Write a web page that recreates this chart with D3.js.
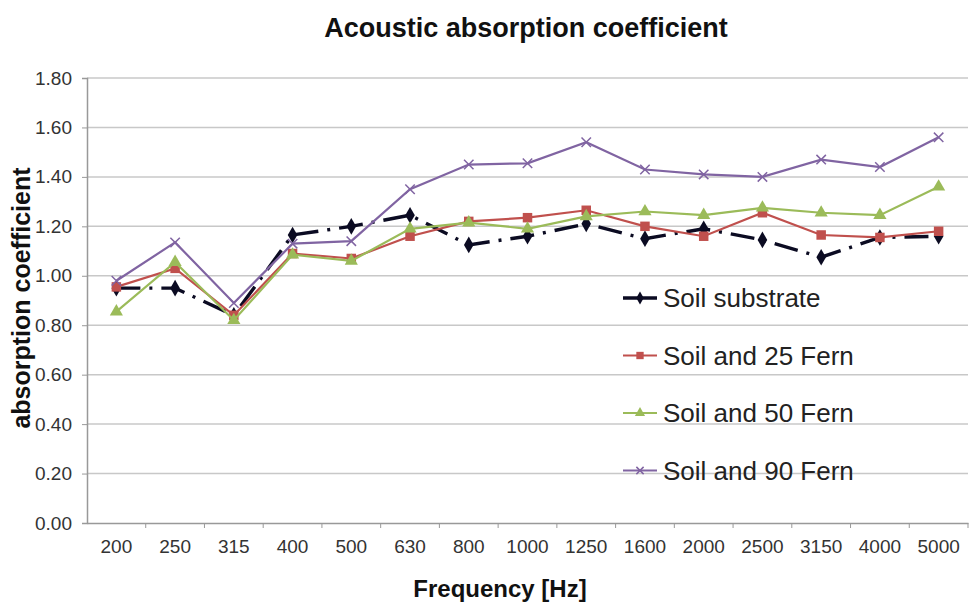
<!DOCTYPE html>
<html>
<head>
<meta charset="utf-8">
<script src="https://cdn.jsdelivr.net/npm/d3@7"></script>
<style>
  body { margin: 0; background: #fff; }
  text { font-family: "Liberation Sans", Arial, sans-serif; }
</style>
</head>
<body>
<svg width="971" height="604"></svg>
<script>
const frequencies = ['200', '250', '315', '400', '500', '630', '800', '1000', '1250', '1600', '2000', '2500', '3150', '4000', '5000'];

const soilSubstrate = [0.95, 0.95, 0.84, 1.165, 1.20, 1.245, 1.125, 1.16, 1.21, 1.15, 1.19, 1.145, 1.075, 1.155, 1.16];
const soil25Fern = [0.955, 1.03, 0.84, 1.09, 1.07, 1.16, 1.22, 1.235, 1.265, 1.20, 1.16, 1.255, 1.165, 1.155, 1.18];
const soil50Fern = [0.855, 1.055, 0.82, 1.085, 1.06, 1.19, 1.215, 1.19, 1.24, 1.26, 1.245, 1.275, 1.255, 1.245, 1.36];
const soil90Fern = [0.98, 1.135, 0.89, 1.13, 1.14, 1.35, 1.45, 1.455, 1.54, 1.43, 1.41, 1.40, 1.47, 1.44, 1.56];

const seriesNames = ['Soil substrate', 'Soil and 25 Fern', 'Soil and 50 Fern', 'Soil and 90 Fern'];
const yTicks = [0, 0.2, 0.4, 0.6, 0.8, 1.0, 1.2, 1.4, 1.6, 1.8];

const series = [
    {name: seriesNames[0], values: soilSubstrate, color: '#0b0b22', marker: d3.symbolDiamond, width: 3.4, dash: '24,9,3,9', msize: 80},
    {name: seriesNames[1], values: soil25Fern, color: '#c0504d', marker: d3.symbolSquare, width: 2.2, dash: null, msize: 90},
    {name: seriesNames[2], values: soil50Fern, color: '#9bbb59', marker: d3.symbolTriangle, width: 2.2, dash: null, msize: 75},
    {name: seriesNames[3], values: soil90Fern, color: '#8064a2', marker: d3.symbolX, width: 2.2, dash: null, msize: 60}
];

const svg = d3.select('svg');
const margin = {left: 87, right: 3, top: 78, bottom: 81};
const width = +svg.attr('width');
const height = +svg.attr('height');

const x = d3.scaleBand()
    .domain(frequencies)
    .range([margin.left, width - margin.right]);

const y = d3.scaleLinear()
    .domain([0, 1.8])
    .range([height - margin.bottom, margin.top]);

// gridlines
svg.append('g')
    .selectAll('line')
    .data(yTicks.slice(1))
    .enter().append('line')
    .attr('x1', margin.left)
    .attr('x2', width - margin.right)
    .attr('y1', d => y(d))
    .attr('y2', d => y(d))
    .attr('stroke', '#c8c8c8')
    .attr('stroke-width', 1.5);

// y axis
const yAxis = svg.append('g')
    .attr('transform', `translate(${margin.left},0)`)
    .call(d3.axisLeft(y).tickValues(yTicks).tickFormat(d3.format('.2f')).tickSize(5).tickPadding(10));
yAxis.select('.domain').attr('stroke', '#999').attr('stroke-width', 1.5);
yAxis.selectAll('.tick line').attr('stroke', '#999');
yAxis.selectAll('text').attr('font-size', 19).attr('fill', '#333');

// x axis
const xAxis = svg.append('g')
    .attr('transform', `translate(0,${height - margin.bottom})`)
    .call(d3.axisBottom(x).tickSize(0).tickPadding(17));
xAxis.select('.domain').attr('stroke', '#999').attr('stroke-width', 1.5);
xAxis.selectAll('text').attr('font-size', 19).attr('fill', '#333');
xAxis.selectAll('.sep')
    .data(frequencies.slice(1).concat(['end']))
    .enter().append('line')
    .attr('class', 'sep')
    .attr('x1', (d, i) => x.range()[0] + x.step() * (i + 1))
    .attr('x2', (d, i) => x.range()[0] + x.step() * (i + 1))
    .attr('y1', 0)
    .attr('y2', 5)
    .attr('stroke', '#999');

const line = d3.line()
    .x((d, i) => x(frequencies[i]) + x.bandwidth() / 2)
    .y(d => y(d));

series.forEach(s => {
    svg.append('path')
        .datum(s.values)
        .attr('fill', 'none')
        .attr('stroke', s.color)
        .attr('stroke-width', s.width)
        .attr('stroke-dasharray', s.dash)
        .attr('d', line);

    svg.append('g')
        .selectAll('path')
        .data(s.values)
        .enter().append('path')
        .attr('transform', (d, i) => `translate(${x(frequencies[i]) + x.bandwidth() / 2},${y(d)})`)
        .attr('d', d3.symbol().type(s.marker).size(s.msize))
        .attr('fill', s.marker === d3.symbolX ? 'none' : s.color)
        .attr('stroke', s.color)
        .attr('stroke-width', s.marker === d3.symbolX ? 1.5 : 0);
});

// legend
const legend = svg.append('g')
    .selectAll('g')
    .data(series)
    .enter().append('g')
    .attr('transform', (d, i) => `translate(623,${298 + i * 57.5})`);

legend.append('line')
    .attr('x1', 0).attr('x2', 34)
    .attr('stroke', d => d.color)
    .attr('stroke-width', d => d.width);

legend.append('path')
    .attr('transform', 'translate(17,0)')
    .attr('d', d => d3.symbol().type(d.marker).size(d.msize * 0.6)())
    .attr('fill', d => d.marker === d3.symbolX ? 'none' : d.color)
    .attr('stroke', d => d.color)
    .attr('stroke-width', d => d.marker === d3.symbolX ? 1.5 : 0);

legend.append('text')
    .attr('x', 40)
    .attr('dy', '0.35em')
    .attr('font-size', 26)
    .attr('fill', '#222')
    .text(d => d.name);

// titles
svg.append('text')
    .attr('x', 526)
    .attr('y', 37)
    .attr('text-anchor', 'middle')
    .attr('font-size', 27)
    .attr('font-weight', 'bold')
    .attr('fill', '#111')
    .text('Acoustic absorption coefficient');

svg.append('text')
    .attr('x', 500)
    .attr('y', 597)
    .attr('text-anchor', 'middle')
    .attr('font-size', 24)
    .attr('font-weight', 'bold')
    .attr('fill', '#111')
    .text('Frequency [Hz]');

svg.append('text')
    .attr('transform', 'translate(30,298) rotate(-90)')
    .attr('text-anchor', 'middle')
    .attr('font-size', 25)
    .attr('font-weight', 'bold')
    .attr('fill', '#111')
    .text('absorption coefficient');
</script>
</body>
</html>
